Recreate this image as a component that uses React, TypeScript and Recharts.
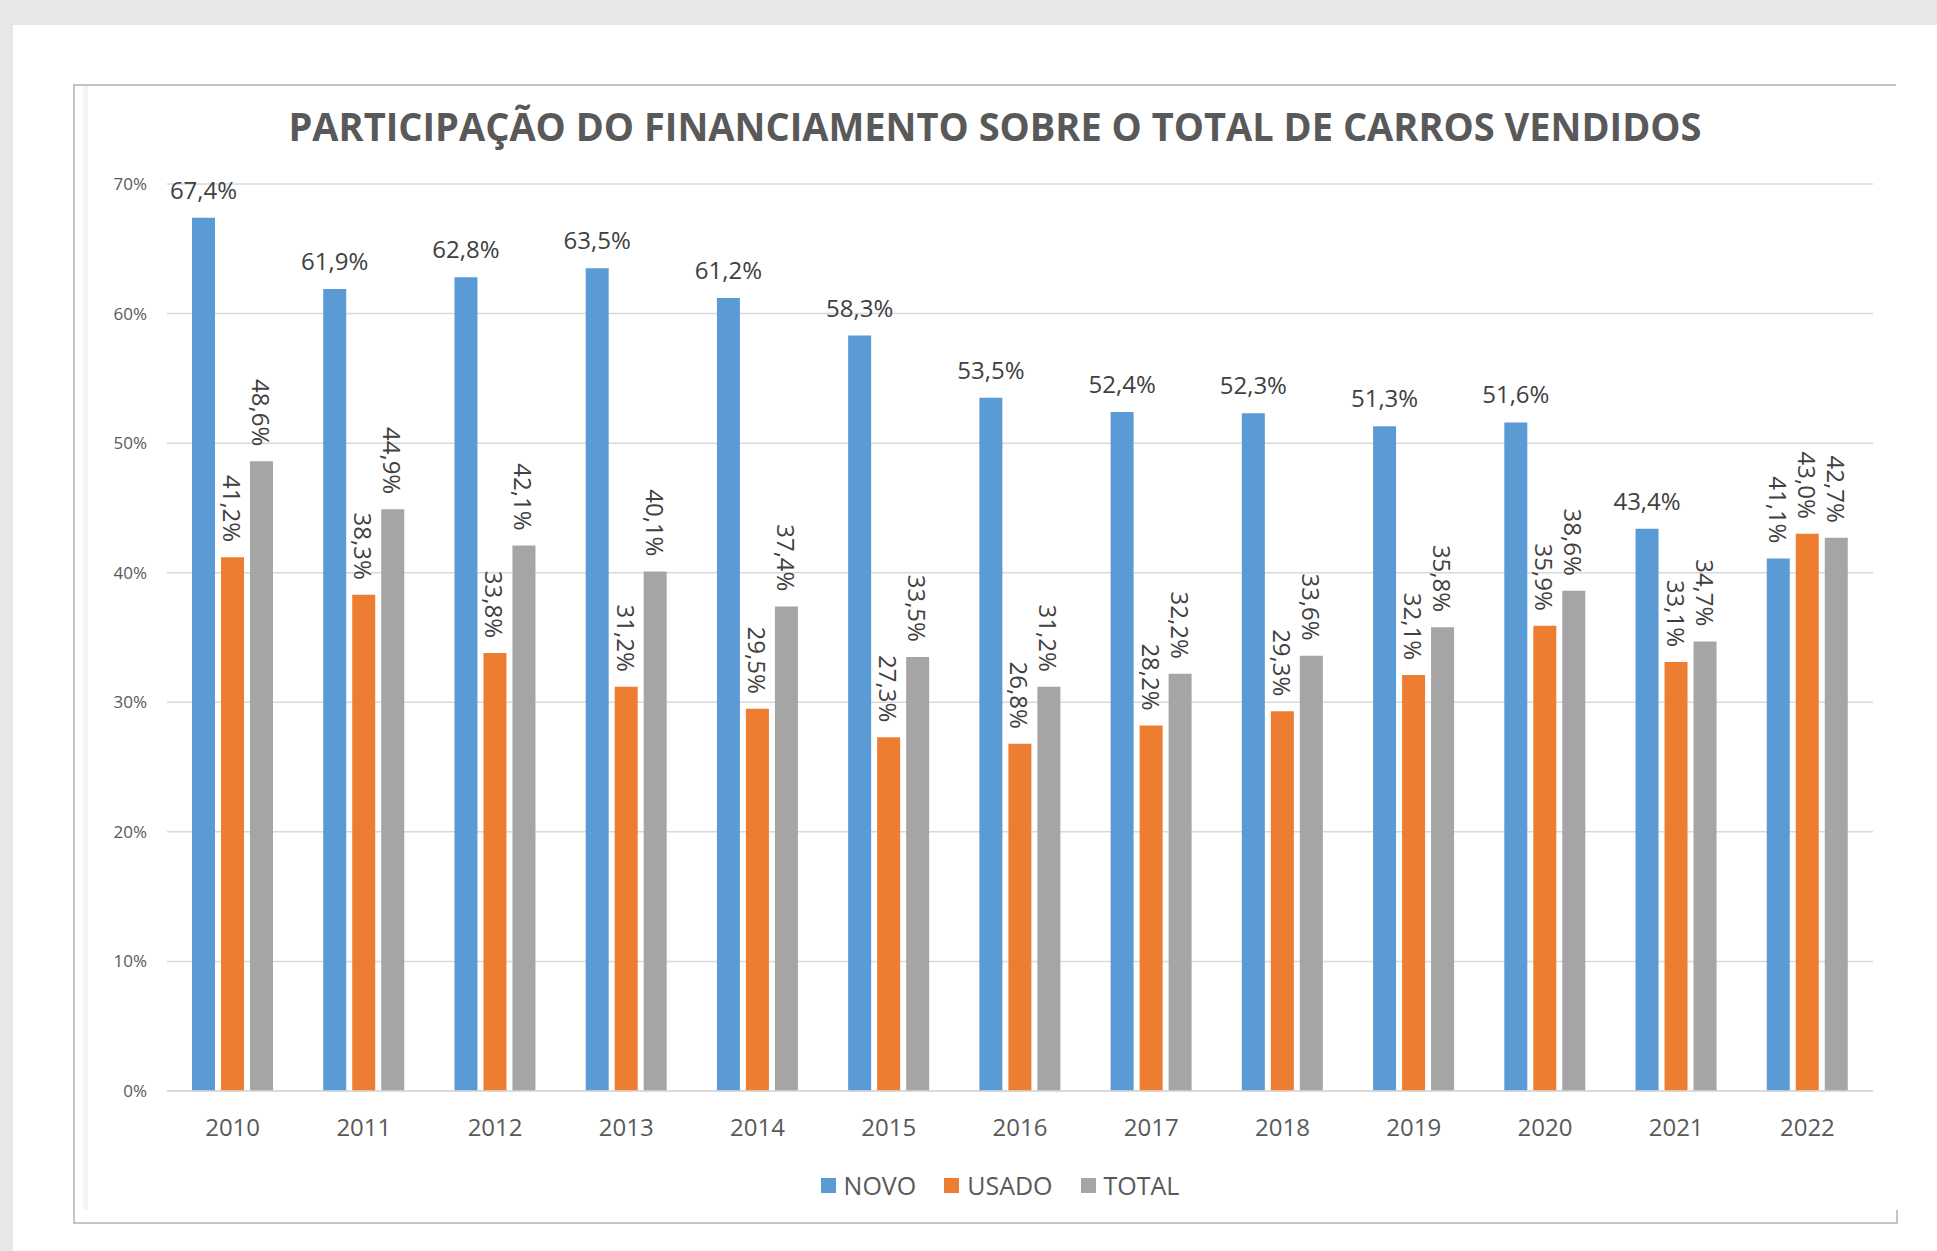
import { BarChart, Bar, XAxis, YAxis, CartesianGrid, LabelList } from 'recharts';

const years = ['2010', '2011', '2012', '2013', '2014', '2015', '2016', '2017', '2018', '2019', '2020', '2021', '2022'];
const novo = [67.4, 61.9, 62.8, 63.5, 61.2, 58.3, 53.5, 52.4, 52.3, 51.3, 51.6, 43.4, 41.1];
const usado = [41.2, 38.3, 33.8, 31.2, 29.5, 27.3, 26.8, 28.2, 29.3, 32.1, 35.9, 33.1, 43.0];
const total = [48.6, 44.9, 42.1, 40.1, 37.4, 33.5, 31.2, 32.2, 33.6, 35.8, 38.6, 34.7, 42.7];
const yTicks = [0, 10, 20, 30, 40, 50, 60, 70];

const title = 'PARTICIPAÇÃO DO FINANCIAMENTO SOBRE O TOTAL DE CARROS VENDIDOS';

const series = [
  { key: 'novo', name: 'NOVO', color: '#5b9bd5' },
  { key: 'usado', name: 'USADO', color: '#ed7d31' },
  { key: 'total', name: 'TOTAL', color: '#a5a5a5' },
];

const data = years.map((year, i) => ({ year, novo: novo[i], usado: usado[i], total: total[i] }));

const FONT = '"Open Sans", sans-serif';
const fmt = (v: number) => v.toFixed(1).replace('.', ',') + '%';

// NOVO labels sit flat above the bar, except the last year; the others are turned
const makeLabel = (alwaysRotate: boolean) => (props: any) => {
  const { x, y, width, value, index } = props;
  const cx = Number(x) + Number(width) / 2;
  const rotated = alwaysRotate || index === years.length - 1;
  if (rotated) {
    const ty = Number(y) - 15;
    return (
      <text x={cx} y={ty} transform={`rotate(90 ${cx} ${ty})`} textAnchor="end" dominantBaseline="central"
        fill="#404040" fontSize={24} fontFamily={FONT}>
        {fmt(value)}
      </text>
    );
  }
  return (
    <text x={cx} y={Number(y) - 19} textAnchor="middle" fill="#404040" fontSize={24} fontFamily={FONT}>
      {fmt(value)}
    </text>
  );
};

export default function App() {
  return (
    <div style={{ position: 'absolute', left: 0, top: 0, width: 1937, height: 1251, background: '#e6e7e9', fontFamily: FONT, overflow: 'hidden' }}>
      <div style={{ position: 'absolute', left: 13, top: 25, right: 0, bottom: 0, background: '#ffffff' }} />
      {/* chart frame */}
      <div style={{ position: 'absolute', left: 73, top: 84, width: 1823, height: 2, background: '#c4c5cc' }} />
      <div style={{ position: 'absolute', left: 73, top: 84, width: 2, height: 1140, background: '#c4c5cc' }} />
      <div style={{ position: 'absolute', left: 73, top: 1222, width: 1825, height: 2, background: '#c4c5cc' }} />
      <div style={{ position: 'absolute', left: 1896, top: 1210, width: 2, height: 14, background: '#c4c5cc' }} />
      <div style={{ position: 'absolute', left: 83, top: 86, width: 5, height: 1124, background: '#f4f4f5' }} />

      <svg style={{ position: 'absolute', left: 0, top: 0 }} width={1937} height={160}>
        <text x={995} y={141} textAnchor="middle" textLength={1413} lengthAdjust="spacingAndGlyphs"
          fill="#595959" fontSize={40} fontWeight={700} fontFamily={FONT}>
          {title}
        </text>
      </svg>

      <div style={{ position: 'absolute', left: 0, top: 0 }}>
        <BarChart width={1937} height={1251} data={data} barSize={23} barGap={6}
          margin={{ top: 184, right: 64, bottom: 100, left: 77 }}>
          <CartesianGrid vertical={false} stroke="#d9d9d9" strokeWidth={1.5} />
          <XAxis dataKey="year" axisLine={{ stroke: '#d9d9d9', strokeWidth: 1.5 }} tickLine={false} tickSize={0}
            tickMargin={28} height={60} tick={{ fill: '#595959', fontSize: 24, fontFamily: FONT }} />
          <YAxis domain={[0, 70]} ticks={yTicks} tickFormatter={(v) => v + '%'} axisLine={false} tickLine={false}
            tickSize={0} tickMargin={20} width={90} tick={{ fill: '#595959', fontSize: 17, fontFamily: FONT }} />
          {series.map((s) => (
            <Bar key={s.key} dataKey={s.key} name={s.name} fill={s.color} isAnimationActive={false}>
              <LabelList dataKey={s.key} content={makeLabel(s.key !== 'novo')} />
            </Bar>
          ))}
        </BarChart>
      </div>

      <div style={{ position: 'absolute', left: 0, top: 1168, width: 2000, display: 'flex', justifyContent: 'center', gap: 28 }}>
        {series.map((s) => (
          <div key={s.key} style={{ display: 'flex', alignItems: 'center', gap: 8, color: '#595959', fontSize: 25 }}>
            <span style={{ display: 'inline-block', width: 15, height: 15, background: s.color }} />
            <span>{s.name}</span>
          </div>
        ))}
      </div>
    </div>
  );
}
